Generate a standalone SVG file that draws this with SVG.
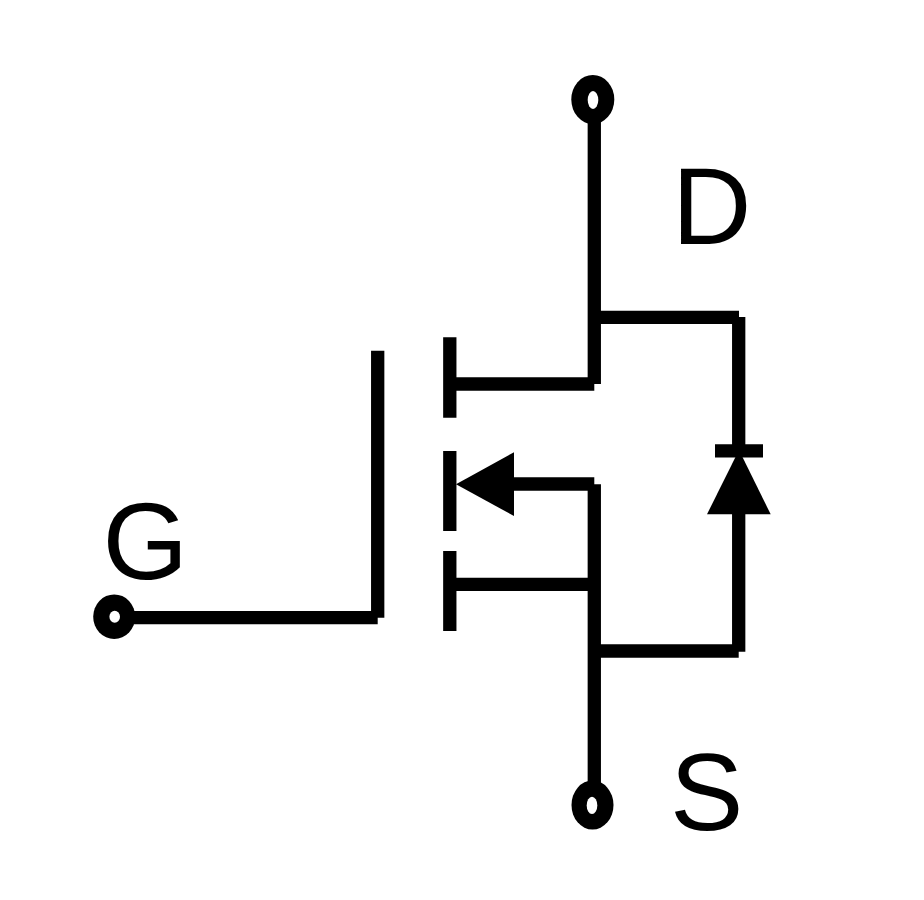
<svg xmlns="http://www.w3.org/2000/svg" width="924" height="900" viewBox="0 0 924 900">
<style>
.w{fill:none;stroke:#000;stroke-width:13.3;stroke-linecap:butt}
.t{fill:none;stroke:#000;stroke-width:15.5}
.f{fill:#000;stroke:none}
.l{font-family:"Liberation Sans",Arial,sans-serif;font-size:110px;fill:#000}
</style>
<rect width="924" height="900" fill="#fff"/>
<g id="connectors">
<path class="w" d="M594.3 120V384"/>
<path class="w" d="M594.3 317.3H739"/>
<path class="w" d="M738.7 317V450"/>
<path class="w" d="M456 384H594.3"/>
<path class="w" d="M514 484H594.3"/>
<path class="w" d="M594.3 484.3V785"/>
<path class="w" d="M456 584.3H594.3"/>
<path class="w" d="M594.3 651H738.7"/>
<path class="w" d="M738.7 514V651.7"/>
<path class="w" d="M130 617.7H377.7"/>
<path class="w" d="M377.7 350.7V617.7"/>
</g>
<g id="channel">
<path class="w" d="M449.8 337.3V417.7"/>
<path class="w" d="M449.8 451V531"/>
<path class="w" d="M449.8 551V631"/>
<polygon class="f" points="456,484.3 514,452.3 514,516"/>
</g>
<g id="diode">
<path class="w" d="M715 450.8H763"/>
<polygon class="f" points="739,450 770.7,514.3 707,514.3"/>
</g>
<g id="terminal-d"><ellipse class="f" cx="592.8" cy="99.5" rx="21.5" ry="24.5"/><ellipse cx="593" cy="100" rx="5.3" ry="9" fill="#fff"/></g>
<g id="terminal-g"><ellipse class="f" cx="114.2" cy="616.7" rx="21" ry="22.3"/><ellipse cx="114.7" cy="616.7" rx="5.3" ry="6" fill="#fff"/></g>
<g id="terminal-s"><ellipse class="f" cx="592.5" cy="805" rx="21" ry="24.5"/><ellipse cx="592" cy="805.4" rx="5.3" ry="8.7" fill="#fff"/></g>
<g id="label-d"><text class="l" x="672" y="244.3">D</text></g>
<g id="label-g"><text class="l" x="102.5" y="579">G</text></g>
<g id="label-s"><text class="l" x="670" y="829.5">S</text></g>
</svg>
